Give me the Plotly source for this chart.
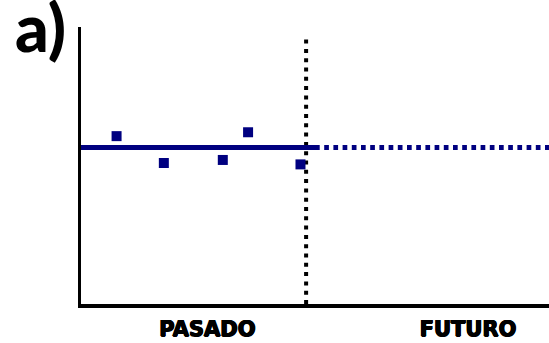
import plotly.graph_objects as go

# Observed (past) data points
obs_x = [0.76, 1.77, 3.03, 3.57, 4.69]
obs_y = [6.06, 5.09, 5.20, 6.20, 5.04]

# Fitted level (constant) - past segment and future projection
level = 5.65
past_x = [0.0, 5.0]
future_x = [5.0, 10.0]

# "Now" divider
now_x = 4.81
now_top = 9.64

# Period tick labels
period_pos = [2.70, 8.27]
period_labels = ["PASADO", "FUTURO"]

NAVY = "#000080"
HEAVY = "0.7px 0 0 #000, -0.7px 0 0 #000, 0 0.5px 0 #000, 0 -0.5px 0 #000"

fig = go.Figure()
fig.add_trace(go.Scatter(x=[now_x, now_x], y=[0, now_top], mode="lines",
                         line=dict(color="black", width=4, dash="4px,5.3px"),
                         hoverinfo="skip", showlegend=False))
fig.add_trace(go.Scatter(x=past_x, y=[level, level], mode="lines",
                         line=dict(color=NAVY, width=5),
                         showlegend=False))
fig.add_trace(go.Scatter(x=future_x, y=[level, level], mode="lines",
                         line=dict(color=NAVY, width=5, dash="4.7px,4.5px"),
                         showlegend=False))
fig.add_trace(go.Scatter(x=obs_x, y=obs_y, mode="markers",
                         marker=dict(symbol="square", size=10, color=NAVY),
                         showlegend=False))

fig.add_annotation(text="a)", xref="paper", yref="paper", x=-0.145, y=1.15,
                   xanchor="left", yanchor="top", showarrow=False,
                   font=dict(family="Lato", size=66, color="black", weight=900))

fig.update_layout(
    width=549, height=343,
    margin=dict(l=81, r=0, t=27, b=39),
    paper_bgcolor="white", plot_bgcolor="white",
    xaxis=dict(range=[0, 10], showgrid=False, zeroline=False,
               showline=True, linecolor="black", linewidth=4,
               tickmode="array", tickvals=period_pos, ticktext=period_labels,
               ticks="", ticklabelstandoff=3,
               tickfont=dict(family="DejaVu Sans", size=21, color="black",
                             weight="bold", shadow=HEAVY)),
    yaxis=dict(range=[0, 10], showgrid=False, zeroline=False,
               showline=True, linecolor="black", linewidth=3,
               showticklabels=False, ticks=""),
)
fig.write_html(
    "out.html",
    config={"displayModeBar": False},
    post_script="document.body.style.margin='0';document.body.style.overflow='hidden';",
)
